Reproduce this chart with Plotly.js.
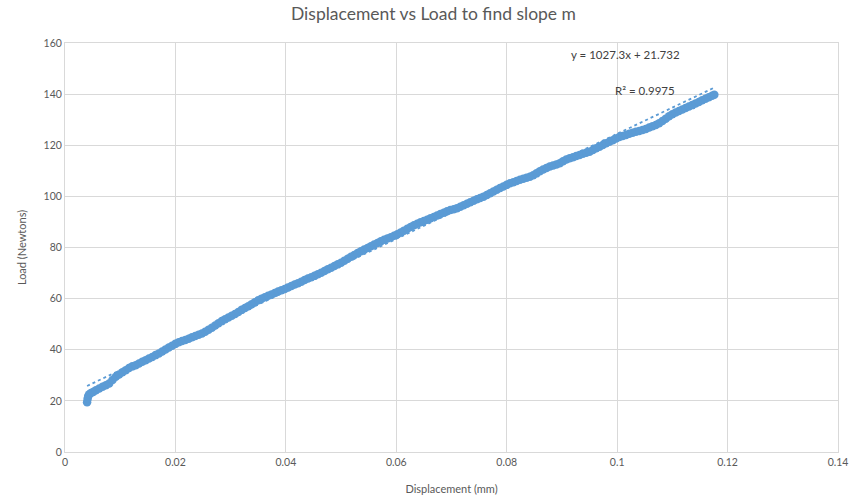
<!DOCTYPE html>
<html>
<head>
<meta charset="utf-8">
<script src="https://cdn.plot.ly/plotly-3.0.1.min.js"></script>
<style>html,body{margin:0;padding:0;background:#fff}#chart{width:867px;height:497px}</style>
</head>
<body>
<div id="chart"></div>
<script>
const displacement = [0.0040,0.0041,0.0042,0.0044,0.0047,0.0051,0.0056,0.0062,0.0068,0.0074,0.0080,0.0086,0.0092,0.0098,0.0104,0.0110,0.0116,0.0122,0.0128,0.0134,0.0140,0.0146,0.0152,0.0158,0.0164,0.0170,0.0176,0.0182,0.0188,0.0194,0.0200,0.0206,0.0212,0.0218,0.0224,0.0230,0.0236,0.0242,0.0248,0.0254,0.0260,0.0266,0.0272,0.0278,0.0284,0.0290,0.0296,0.0302,0.0308,0.0314,0.0320,0.0326,0.0332,0.0338,0.0344,0.0350,0.0356,0.0362,0.0368,0.0374,0.0380,0.0386,0.0392,0.0398,0.0404,0.0410,0.0416,0.0422,0.0428,0.0434,0.0440,0.0446,0.0452,0.0458,0.0464,0.0470,0.0476,0.0482,0.0488,0.0494,0.0500,0.0506,0.0512,0.0518,0.0524,0.0530,0.0536,0.0542,0.0548,0.0554,0.0560,0.0566,0.0572,0.0578,0.0584,0.0590,0.0596,0.0602,0.0608,0.0614,0.0620,0.0626,0.0632,0.0638,0.0644,0.0650,0.0656,0.0662,0.0668,0.0674,0.0680,0.0686,0.0692,0.0698,0.0704,0.0710,0.0716,0.0722,0.0728,0.0734,0.0740,0.0746,0.0752,0.0758,0.0764,0.0770,0.0776,0.0782,0.0788,0.0794,0.0800,0.0806,0.0812,0.0818,0.0824,0.0830,0.0836,0.0842,0.0848,0.0854,0.0860,0.0866,0.0872,0.0878,0.0884,0.0890,0.0896,0.0902,0.0908,0.0914,0.0920,0.0926,0.0932,0.0938,0.0944,0.0950,0.0956,0.0962,0.0968,0.0974,0.0980,0.0986,0.0992,0.0998,0.1004,0.1010,0.1016,0.1022,0.1028,0.1034,0.1040,0.1046,0.1052,0.1058,0.1064,0.1070,0.1076,0.1082,0.1088,0.1094,0.1100,0.1106,0.1112,0.1118,0.1124,0.1130,0.1136,0.1142,0.1148,0.1154,0.1160,0.1166,0.1172,0.1176];
const load = [19.5,20.8,21.9,22.6,23.1,23.5,24.2,24.8,25.5,26.1,26.8,28.2,29.4,30.3,31.2,32.0,32.9,33.5,33.9,34.6,35.3,35.9,36.6,37.2,37.9,38.5,39.3,40.1,40.9,41.6,42.3,42.9,43.4,43.8,44.3,44.9,45.4,45.9,46.4,47.0,47.8,48.6,49.5,50.4,51.2,51.9,52.6,53.3,54.0,54.8,55.6,56.3,57.0,57.8,58.6,59.4,60.0,60.5,61.1,61.6,62.2,62.8,63.3,63.8,64.4,64.9,65.5,66.0,66.6,67.3,67.9,68.4,68.9,69.5,70.1,70.8,71.5,72.1,72.8,73.4,74.0,74.8,75.6,76.4,77.1,77.8,78.5,79.2,79.8,80.5,81.2,81.8,82.4,83.0,83.5,84.0,84.6,85.2,85.9,86.6,87.3,88.0,88.7,89.3,89.9,90.4,90.9,91.4,91.9,92.5,93.1,93.6,94.2,94.7,95.0,95.4,95.9,96.5,97.1,97.7,98.3,98.9,99.4,99.9,100.5,101.2,101.9,102.6,103.3,103.9,104.5,105.1,105.5,106.0,106.5,106.9,107.3,107.7,108.3,109.0,109.8,110.5,111.1,111.7,112.1,112.5,113.0,113.7,114.4,114.9,115.3,115.8,116.2,116.7,117.1,117.5,118.1,118.8,119.4,120.1,120.8,121.4,122.0,122.6,123.2,123.6,124.0,124.5,124.9,125.3,125.6,126.0,126.4,126.9,127.4,127.9,128.6,129.5,130.4,131.3,132.1,132.8,133.4,134.0,134.6,135.2,135.7,136.3,136.9,137.6,138.2,138.8,139.4,139.8];
const trendX = [0.0040, 0.1176];
const trendY = [25.84, 142.54];
const xTickVals = [0, 0.02, 0.04, 0.06, 0.08, 0.1, 0.12, 0.14];
const xTickText = ["0", "0.02", "0.04", "0.06", "0.08", "0.1", "0.12", "0.14"];
const yTickVals = [0, 20, 40, 60, 80, 100, 120, 140, 160];
const yTickText = ["0", "20", "40", "60", "80", "100", "120", "140", "160"];

const blue = '#5B9BD5';
const grid = '#D9D9D9';
const textCol = '#595959';
const fontFam = 'Lato, "Open Sans", sans-serif';

const traces = [
  {x: displacement, y: load, type: 'scatter', mode: 'markers',
   marker: {color: blue, size: 8.5}, hoverinfo: 'x+y'},
  {x: trendX, y: trendY, type: 'scatter', mode: 'lines',
   line: {color: blue, width: 1.8, dash: 'dot'}}
];

const layout = {
  width: 867, height: 497,
  margin: {l: 65, r: 29, t: 43, b: 45},
  paper_bgcolor: '#fff', plot_bgcolor: '#fff',
  showlegend: false,
  font: {family: fontFam, color: textCol, size: 11},
  title: {text: 'Displacement vs Load to find slope m', x: 0.5, xanchor: 'center', y: 0.972, yanchor: 'middle',
          font: {family: fontFam, size: 17.5, color: textCol}},
  xaxis: {range: [0, 0.14], tickvals: xTickVals, ticktext: xTickText,
          showgrid: true, gridcolor: grid, zeroline: false, showline: true, linecolor: grid, mirror: true,
          ticks: '', ticklen: 0, tickfont: {size: 10.5, color: textCol}, automargin: false,
          title: {text: 'Displacement (mm)', standoff: 18, font: {size: 11, color: textCol}}},
  yaxis: {range: [0, 160], tickvals: yTickVals, ticktext: yTickText,
          showgrid: true, gridcolor: grid, zeroline: false, showline: true, linecolor: grid, mirror: true,
          ticks: '', tickfont: {size: 10.5, color: textCol}, automargin: false,
          title: {text: 'Load (Newtons)', standoff: 14, font: {size: 11, color: textCol}}},
  annotations: [
    {text: 'y = 1027.3x + 21.732', xref: 'paper', yref: 'paper', x: 0.7245, y: 0.9707,
     showarrow: false, xanchor: 'center', yanchor: 'middle', font: {size: 11.5, color: '#404040'}},
    {text: 'R² = 0.9975', xref: 'paper', yref: 'paper', x: 0.750, y: 0.885,
     showarrow: false, xanchor: 'center', yanchor: 'middle', font: {size: 11.5, color: '#404040'}}
  ]
};

Plotly.newPlot('chart', traces, layout, {displayModeBar: false, staticPlot: true});
</script>
</body>
</html>
